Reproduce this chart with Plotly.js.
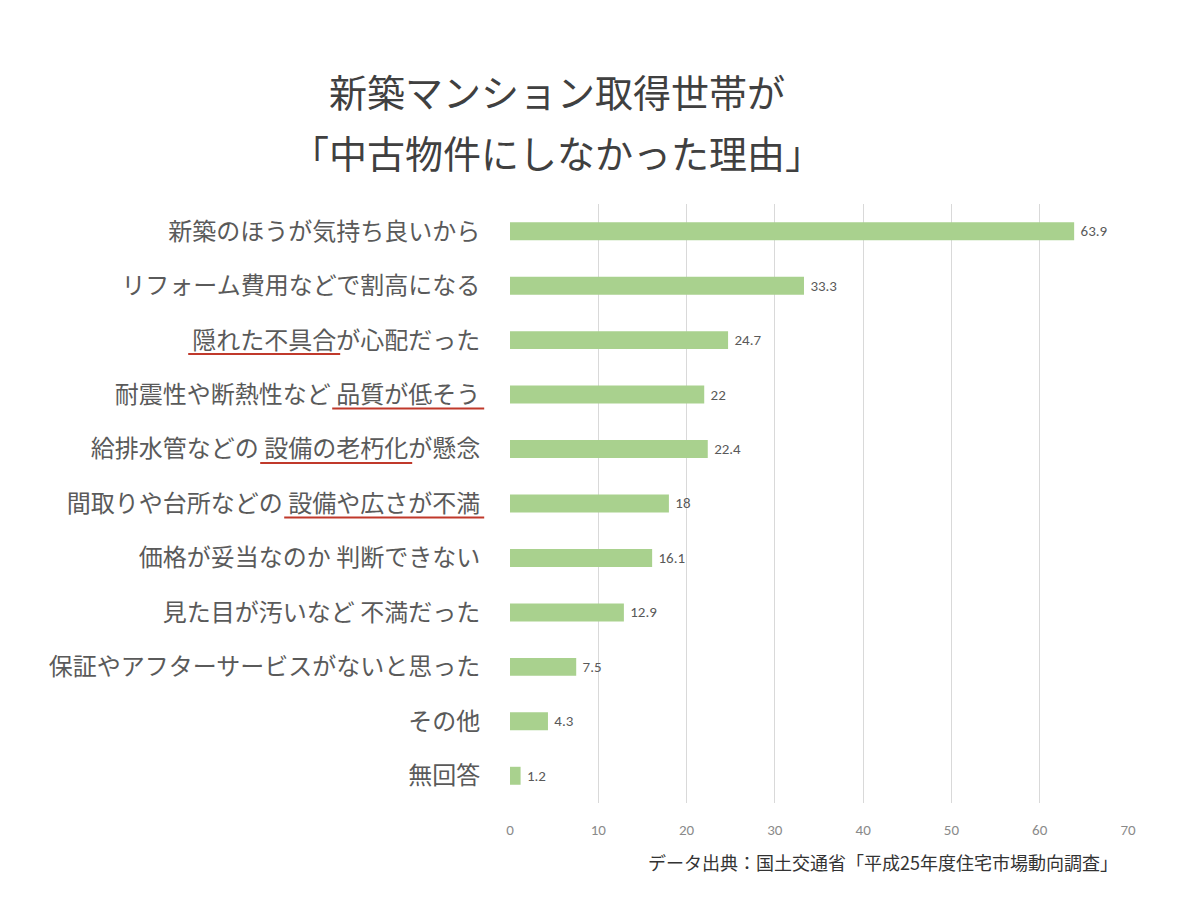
<!DOCTYPE html>
<html>
<head>
<meta charset="utf-8">
<script src="https://cdn.plot.ly/plotly-3.0.1.min.js"></script>
<style>
  html, body { margin: 0; padding: 0; background: #ffffff; }
  #chart { width: 1200px; height: 902px; }
</style>
</head>
<body>
<div id="chart"></div>
<script>
// ---- data ----
const titleLine1 = '新築マンション取得世帯が';
const titleLine2 = '「中古物件にしなかった理由」';
const categories = [
  '新築のほうが気持ち良いから',
  'リフォーム費用などで割高になる',
  '隠れた不具合が心配だった',
  '耐震性や断熱性など 品質が低そう',
  '給排水管などの 設備の老朽化が懸念',
  '間取りや台所などの 設備や広さが不満',
  '価格が妥当なのか 判断できない',
  '見た目が汚いなど 不満だった',
  '保証やアフターサービスがないと思った',
  'その他',
  '無回答'
];
const values = [63.9, 33.3, 24.7, 22, 22.4, 18, 16.1, 12.9, 7.5, 4.3, 1.2];
const xTicks = [0, 10, 20, 30, 40, 50, 60, 70];
const underlinedPhrases = ['隠れた不具合', '品質が低そう', '設備の老朽化', '設備や広さが不満'];
const sourceText = 'データ出典：国土交通省「平成25年度住宅市場動向調査」';

// ---- style ----
const CJK = '"Noto Sans CJK JP", "Noto Sans", sans-serif';
const NUM = 'Carlito, "Liberation Sans Narrow", Lato, sans-serif';
const labelSize = 24;
const M = { l: 510, r: 72, t: 204, b: 99 };
const PW = 1200 - M.l - M.r, PH = 902 - M.t - M.b;
const pyToPaper = py => 1 - (py - M.t) / PH;
const pxToPaper = px => (px - M.l) / PW;

const trace = {
  type: 'bar',
  orientation: 'h',
  y: categories,
  x: values,
  marker: { color: '#a9d18e' },
  text: values.map(v => '\u00a0' + v),
  textposition: 'outside',
  textfont: { family: NUM, size: 15, color: '#595959' },
  cliponaxis: false,
  hoverinfo: 'x+y'
};

const layout = {
  width: 1200,
  height: 902,
  paper_bgcolor: '#ffffff',
  plot_bgcolor: '#ffffff',
  margin: M,
  showlegend: false,
  bargap: 0.67,
  title: {
    text: titleLine1,
    font: { family: CJK, size: 38, color: '#404040' },
    x: 557 / 1200,
    xanchor: 'center',
    xref: 'container',
    y: 1 - 94 / 902,
    yref: 'container',
    yanchor: 'middle'
  },
  xaxis: {
    range: [0, 70],
    tickvals: xTicks,
    ticktext: xTicks.map(String),
    showgrid: true,
    gridcolor: '#d9d9d9',
    gridwidth: 1,
    zeroline: false,
    showline: false,
    ticks: 'outside',
    ticklen: 13,
    tickcolor: 'rgba(0,0,0,0)',
    tickfont: { family: NUM, size: 15, color: '#8a8a8a' },
    fixedrange: true
  },
  yaxis: {
    type: 'category',
    autorange: 'reversed',
    showgrid: false,
    zeroline: false,
    showline: false,
    ticks: 'outside',
    ticklen: 24,
    tickcolor: 'rgba(0,0,0,0)',
    tickfont: { family: CJK, size: labelSize, color: '#5a5a5a' },
    automargin: false,
    fixedrange: true
  },
  annotations: [
    {
      text: titleLine2,
      xref: 'paper', yref: 'paper',
      x: pxToPaper(557), xanchor: 'center',
      y: pyToPaper(152), yanchor: 'middle',
      showarrow: false,
      font: { family: CJK, size: 38, color: '#404040' }
    },
    {
      text: sourceText,
      xref: 'paper', yref: 'paper',
      x: pxToPaper(1120), xanchor: 'right',
      y: pyToPaper(862), yanchor: 'middle',
      showarrow: false,
      font: { family: CJK, size: 18, color: '#333333' }
    }
  ]
};

Plotly.newPlot('chart', [trace], layout, { displayModeBar: false, staticPlot: true }).then(gd => {
  const ctx = document.createElement('canvas').getContext('2d');
  ctx.font = labelSize + 'px "Noto Sans CJK JP"';
  const gdRect = gd.getBoundingClientRect();
  const shapes = [];
  gd.querySelectorAll('.ytick text').forEach(el => {
    const label = el.textContent;
    const phrase = underlinedPhrases.find(p => label.indexOf(p) >= 0);
    if (!phrase) return;
    const i0 = label.indexOf(phrase);
    const i1 = i0 + phrase.length;
    const r = el.getBoundingClientRect();
    const right = r.right - gdRect.left;
    const full = ctx.measureText(label).width;
    const startPx = right - full + ctx.measureText(label.slice(0, i0)).width - 4;
    const endPx = right - full + ctx.measureText(label.slice(0, i1)).width + 4;
    const yc = (r.top + r.bottom) / 2 - gdRect.top + 16;
    shapes.push({
      type: 'line', xref: 'paper', yref: 'paper',
      x0: pxToPaper(startPx), x1: pxToPaper(endPx),
      y0: pyToPaper(yc), y1: pyToPaper(yc),
      line: { color: '#c0392b', width: 2 }
    });
  });
  return Plotly.relayout(gd, { shapes: shapes });
});
</script>
</body>
</html>
